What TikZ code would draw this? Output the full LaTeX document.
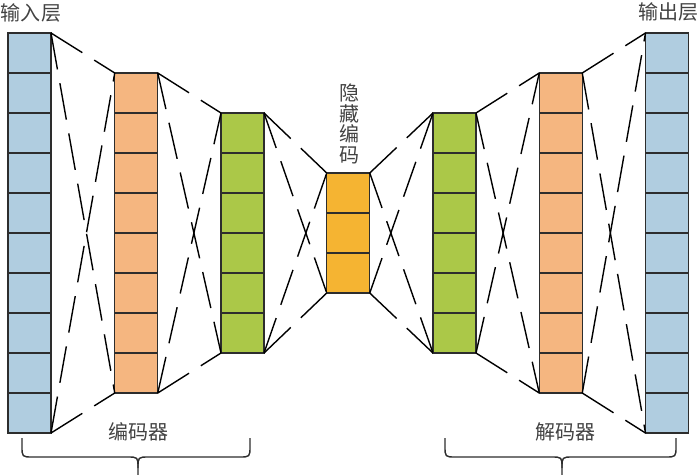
\documentclass[tikz,border=0pt]{standalone}
\usepackage{fontspec}
\newfontfamily\cjk{Noto Sans CJK SC}
\definecolor{cblue}{RGB}{176,205,224}
\definecolor{corange}{RGB}{245,182,128}
\definecolor{cgreen}{RGB}{171,200,72}
\definecolor{cyellow}{RGB}{245,180,50}
\definecolor{ink}{RGB}{45,45,45}
\begin{document}
\begin{tikzpicture}[x=1pt,y=-1pt,
  layerbox/.style={draw=ink, line width=1.4pt, minimum width=43pt, inner sep=0pt, outer sep=0pt, rectangle},
  cellline/.style={draw=ink, line width=1.4pt},
  link/.style={draw=black, line width=1.4pt, dash pattern=on 37pt off 14pt},
  lbl/.style={font=\cjk\fontsize{20}{20.5}\selectfont, text=ink!90, inner sep=0pt, align=center},
  bracepath/.style={draw=ink, line width=1.4pt}]
\useasboundingbox (0,0) rectangle (700,474);
% layers
\foreach \nm/\x/\n/\m/\c in {L1/29.5/10/9/cblue, L2/136.25/8/7/corange, L3/242.5/6/5/cgreen, L4/348.25/3/2/cyellow, L5/454.5/6/5/cgreen, L6/560.75/8/7/corange, L7/667/10/9/cblue}{
  \node[layerbox, fill=\c, minimum height={\n*40pt}] (\nm) at (\x,233) {};
  \foreach \k in {1,...,\m}{
    \draw[cellline] ([yshift=-\k*40pt]\nm.north west) -- ([yshift=-\k*40pt]\nm.north east);
  }
}
% links
\foreach \a/\b in {L1/L2, L2/L3, L3/L4, L4/L5, L5/L6, L6/L7}{
  \draw[link] (\a.north east) -- (\b.north west);
  \draw[link] (\a.north east) -- (\b.south west);
  \draw[link] (\a.south east) -- (\b.south west);
  \draw[link] (\a.south east) -- (\b.north west);
}
% labels
\node[lbl] (tin) at (31,13) {输入层};
\node[lbl] (tout) at (668,12) {输出层};
\node[lbl] (thid) at (349,124) {隐\\藏\\编\\码};
\node[lbl] (tenc) at (138,432) {编码器};
\node[lbl] (tdec) at (565,432) {解码器};
% braces
\draw[bracepath] (22,438) -- (22,446) .. controls (22,457) .. (33,457) -- (127,457) .. controls (138,457) .. (138,468) -- (138,480);
\draw[bracepath] (138,468) .. controls (138,457) .. (149,457) -- (239,457) .. controls (250,457) .. (250,446) -- (250,438);
\draw[bracepath] (445,438) -- (445,446) .. controls (445,457) .. (456,457) -- (551,457) .. controls (562,457) .. (562,468) -- (562,480);
\draw[bracepath] (562,468) .. controls (562,457) .. (573,457) -- (665,457) .. controls (676,457) .. (676,446) -- (676,438);
\end{tikzpicture}
\end{document}
